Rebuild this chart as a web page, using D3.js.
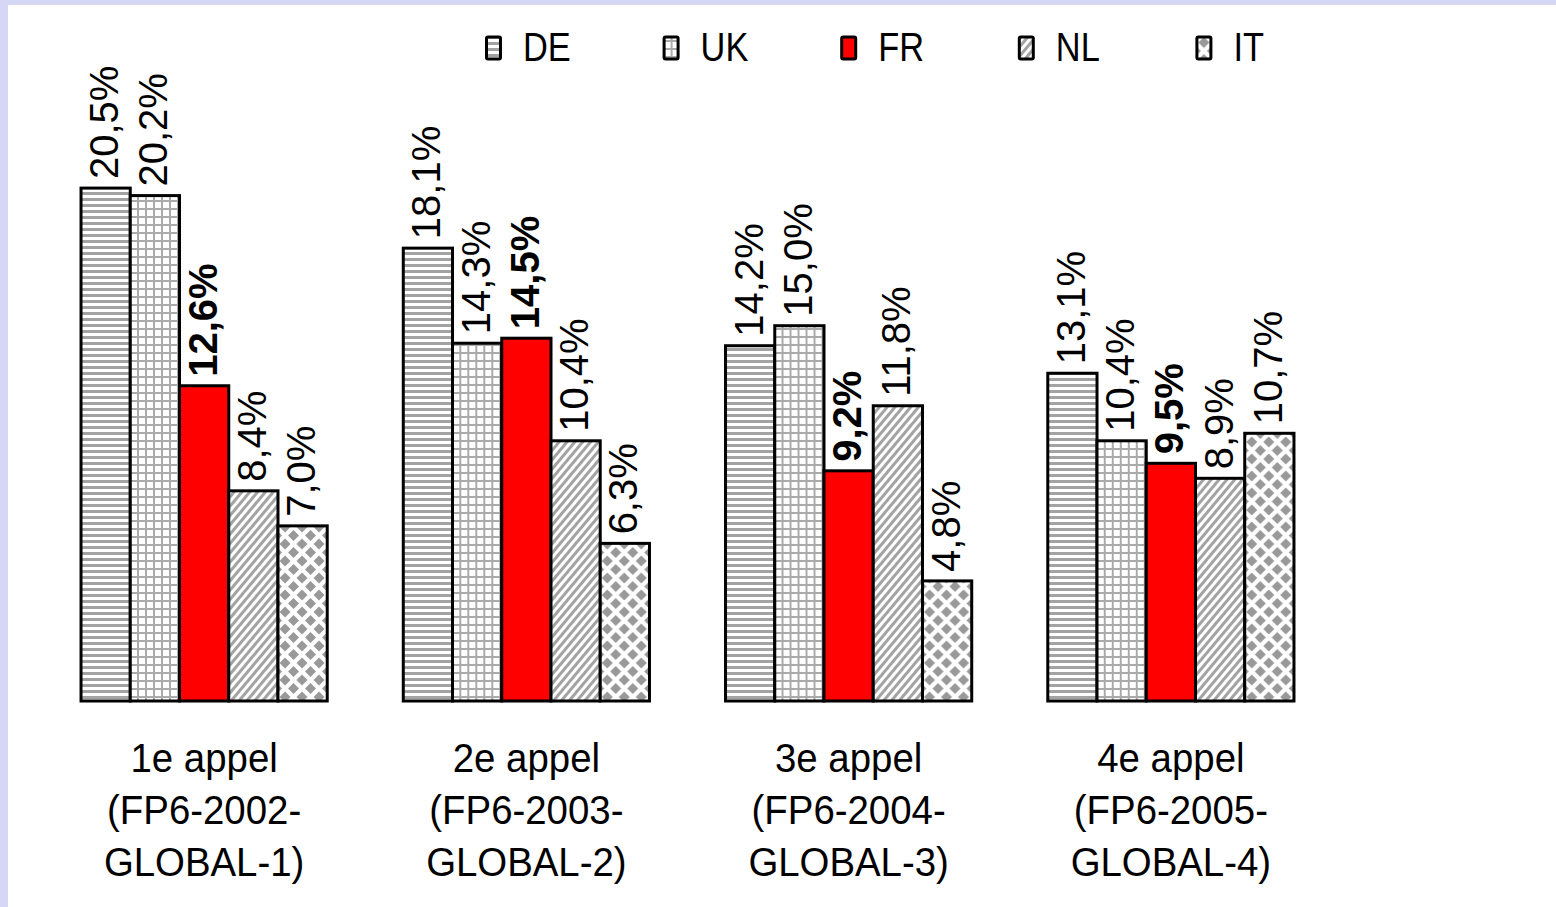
<!DOCTYPE html>
<html>
<head>
<meta charset="utf-8">
<script src="https://cdn.jsdelivr.net/npm/d3@7"></script>
<style>
  html, body { margin: 0; padding: 0; background: #d6d6f5; }
  svg { display: block; }
  text { font-family: "Liberation Sans", Arial, sans-serif; fill: #000; }
</style>
</head>
<body>
<svg id="chart" width="1556" height="907"></svg>
<script>
// ---- data ----
const categories = [
  ["1e appel", "(FP6-2002-", "GLOBAL-1)"],
  ["2e appel", "(FP6-2003-", "GLOBAL-2)"],
  ["3e appel", "(FP6-2004-", "GLOBAL-3)"],
  ["4e appel", "(FP6-2005-", "GLOBAL-4)"]
];
const seriesNames = ["DE", "UK", "FR", "NL", "IT"];
const valuesDE = [20.5, 18.1, 14.2, 13.1];
const valuesUK = [20.2, 14.3, 15.0, 10.4];
const valuesFR = [12.6, 14.5, 9.2, 9.5];
const valuesNL = [8.4, 10.4, 11.8, 8.9];
const valuesIT = [7.0, 6.3, 4.8, 10.7];
const seriesValues = [valuesDE, valuesUK, valuesFR, valuesNL, valuesIT];

// ---- setup ----
const W = 1556, H = 907;
const svg = d3.select("#chart");
svg.append("rect").attr("x", 8).attr("y", 5).attr("width", W - 8).attr("height", H - 5).attr("fill", "#fff");

const defs = svg.append("defs");
// DE: horizontal stripes
const pDE = defs.append("pattern").attr("id", "pDE").attr("patternUnits", "userSpaceOnUse").attr("width", 8).attr("height", 6);
pDE.append("rect").attr("width", 8).attr("height", 6).attr("fill", "#fff");
pDE.append("rect").attr("y", 0).attr("width", 8).attr("height", 3).attr("fill", "#a3a3a3");
// UK: grid
const pUK = defs.append("pattern").attr("id", "pUK").attr("patternUnits", "userSpaceOnUse").attr("width", 8).attr("height", 8);
pUK.append("rect").attr("width", 8).attr("height", 8).attr("fill", "#fff");
pUK.append("rect").attr("x", 0).attr("width", 2).attr("height", 8).attr("fill", "#aaa");
pUK.append("rect").attr("y", 0).attr("width", 8).attr("height", 2).attr("fill", "#aaa");
// NL: diagonal
const pNL = defs.append("pattern").attr("id", "pNL").attr("patternUnits", "userSpaceOnUse").attr("width", 6).attr("height", 6).attr("patternTransform", "rotate(40)");
pNL.append("rect").attr("width", 6).attr("height", 6).attr("fill", "#fff");
pNL.append("rect").attr("x", 0).attr("width", 3).attr("height", 6).attr("fill", "#a3a3a3");
// IT: diamonds
const d = 17, r = 5.5;
const pIT = defs.append("pattern").attr("id", "pIT").attr("patternUnits", "userSpaceOnUse").attr("width", d).attr("height", d);
pIT.append("rect").attr("width", d).attr("height", d).attr("fill", "#fff");
[[0,0],[d,0],[0,d],[d,d],[d/2,d/2]].forEach(([cx, cy]) => {
  pIT.append("polygon").attr("points", `${cx},${cy-r} ${cx+r},${cy} ${cx},${cy+r} ${cx-r},${cy}`).attr("fill", "#999");
});

const fills = ["url(#pDE)", "url(#pUK)", "#ff0000", "url(#pNL)", "url(#pIT)"];

// ---- scales ----
const x0 = d3.scaleBand().domain(d3.range(categories.length)).range([43, 1332]).paddingInner(0.236).paddingOuter(0.118);
const x1 = d3.scaleBand().domain(d3.range(seriesNames.length)).range([0, x0.bandwidth()]);
const y = d3.scaleLinear().domain([0, 25]).range([701, 75.5]);

// ---- bars ----
const groups = svg.append("g").selectAll("g").data(categories).join("g")
  .attr("transform", (c, i) => `translate(${x0(i)},0)`);

groups.each(function(c, ci) {
  const g = d3.select(this);
  seriesNames.forEach((s, si) => {
    const v = seriesValues[si][ci];
    g.append("rect")
      .attr("x", x1(si)).attr("y", y(v))
      .attr("width", x1.bandwidth()).attr("height", y(0) - y(v))
      .attr("fill", fills[si]).attr("stroke", "#000").attr("stroke-width", 3);
  });
  seriesNames.forEach((s, si) => {
    const v = seriesValues[si][ci];
    const cx = x1(si) + x1.bandwidth() / 2 - 2;
    g.append("text")
      .attr("transform", `translate(${cx},${y(v) - 9}) rotate(-90)`)
      .attr("dy", "0.36em")
      .attr("font-size", 40)
      .attr("font-weight", si === 2 ? "bold" : "normal")
      .text(v.toFixed(1).replace(".", ",") + "%");
  });
  // category label
  const cxg = x0.bandwidth() / 2;
  c.forEach((line, li) => {
    g.append("text")
      .attr("transform", `translate(${cxg},${772 + li * 52}) scale(0.96,1)`)
      .attr("text-anchor", "middle")
      .attr("font-size", 40)
      .text(line);
  });
});

// ---- legend ----
const legendX = d3.scaleBand().domain(seriesNames).range([485, 1373]);
const leg = svg.append("g").selectAll("g").data(seriesNames).join("g")
  .attr("transform", s => `translate(${legendX(s)},0)`);
leg.append("rect").attr("x", 1.5).attr("y", 37).attr("width", 14).attr("height", 22)
  .attr("fill", (s, i) => fills[i]).attr("stroke", "#000").attr("stroke-width", 3).attr("rx", 1.5);
leg.append("text")
  .attr("transform", "translate(38,61) scale(0.86,1)")
  .attr("font-size", 40)
  .text(s => s);
</script>
</body>
</html>
